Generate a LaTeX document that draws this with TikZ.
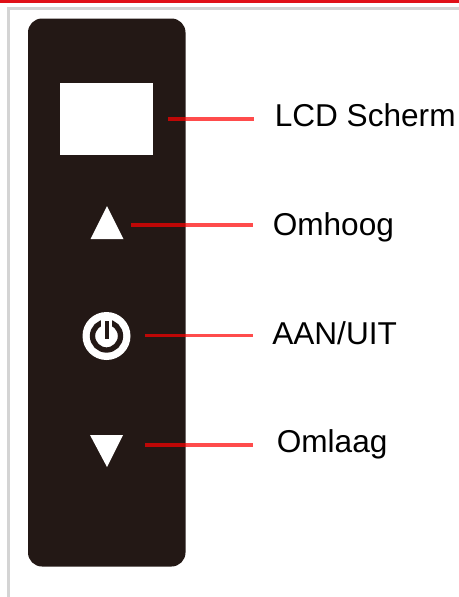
\documentclass[tikz,border=0pt]{standalone}
\usepackage{fontspec}
\setmainfont{Liberation Sans}
\usepackage{tikz}
\definecolor{paneldark}{HTML}{231815}
\definecolor{framegray}{HTML}{D4D4D4}
\definecolor{topred}{HTML}{E01018}
\tikzset{
	callout/.style={red, draw opacity=0.7, line width=2.5pt},
	calloutlabel/.style={anchor=base west, inner sep=0pt, font=\fontsize{23.7}{26}\selectfont},
}

\begin{document}
\begin{tikzpicture}[x=0.75pt, y=-0.75pt]
		\useasboundingbox (0,0) rectangle (459,597);
		% frame of the page
		\fill [topred] (0,0) rectangle (459,3);
		\draw [framegray, line width=1.8pt] (459,8.5) -- (8.5,8.5) -- (8.5,597);
		% panel
		\fill [paneldark, rounded corners=10.5pt] (28,18.5) rectangle (185.5,566.5);
		\fill [white] (60,83) rectangle (153,154.5);
		\fill [white] (107,206) -- (123.5,239) -- (90.5,239) -- cycle;
		\fill [white] (90,435) -- (123,435) -- (107,467) -- cycle;
		% power button
		\fill [white] (106.5,336) circle (24);
		\draw [paneldark, line width=4pt] (106.5,336) circle (14);
		\draw [white, line width=8pt] (106.5,316) -- (106.5,327);
		\draw [paneldark, line width=3pt] (106.5,321) -- (106.5,339);
		% connectors
		\coordinate (lcdfrom) at (168,119);
		\coordinate (lcdto) at (254,119);
		\coordinate (upfrom) at (131,225);
		\coordinate (upto) at (253,225);
		\coordinate (powerfrom) at (145,335.5);
		\coordinate (powerto) at (253,335.5);
		\coordinate (downfrom) at (145,445);
		\coordinate (downto) at (253,445);
		\draw [callout] (lcdfrom) -- (lcdto);
		\draw [callout] (upfrom) -- (upto);
		\draw [callout] (powerfrom) -- (powerto);
		\draw [callout] (downfrom) -- (downto);
		% labels
		\node [calloutlabel] (lcdlabel) at (274.5,126) {LCD Scherm};
		\node [calloutlabel] (uplabel) at (272.5,235) {Omhoog};
		\node [calloutlabel] (powerlabel) at (272,344) {AAN/UIT};
		\node [calloutlabel] (downlabel) at (276.5,452) {Omlaag};
	\end{tikzpicture}
\end{document}
